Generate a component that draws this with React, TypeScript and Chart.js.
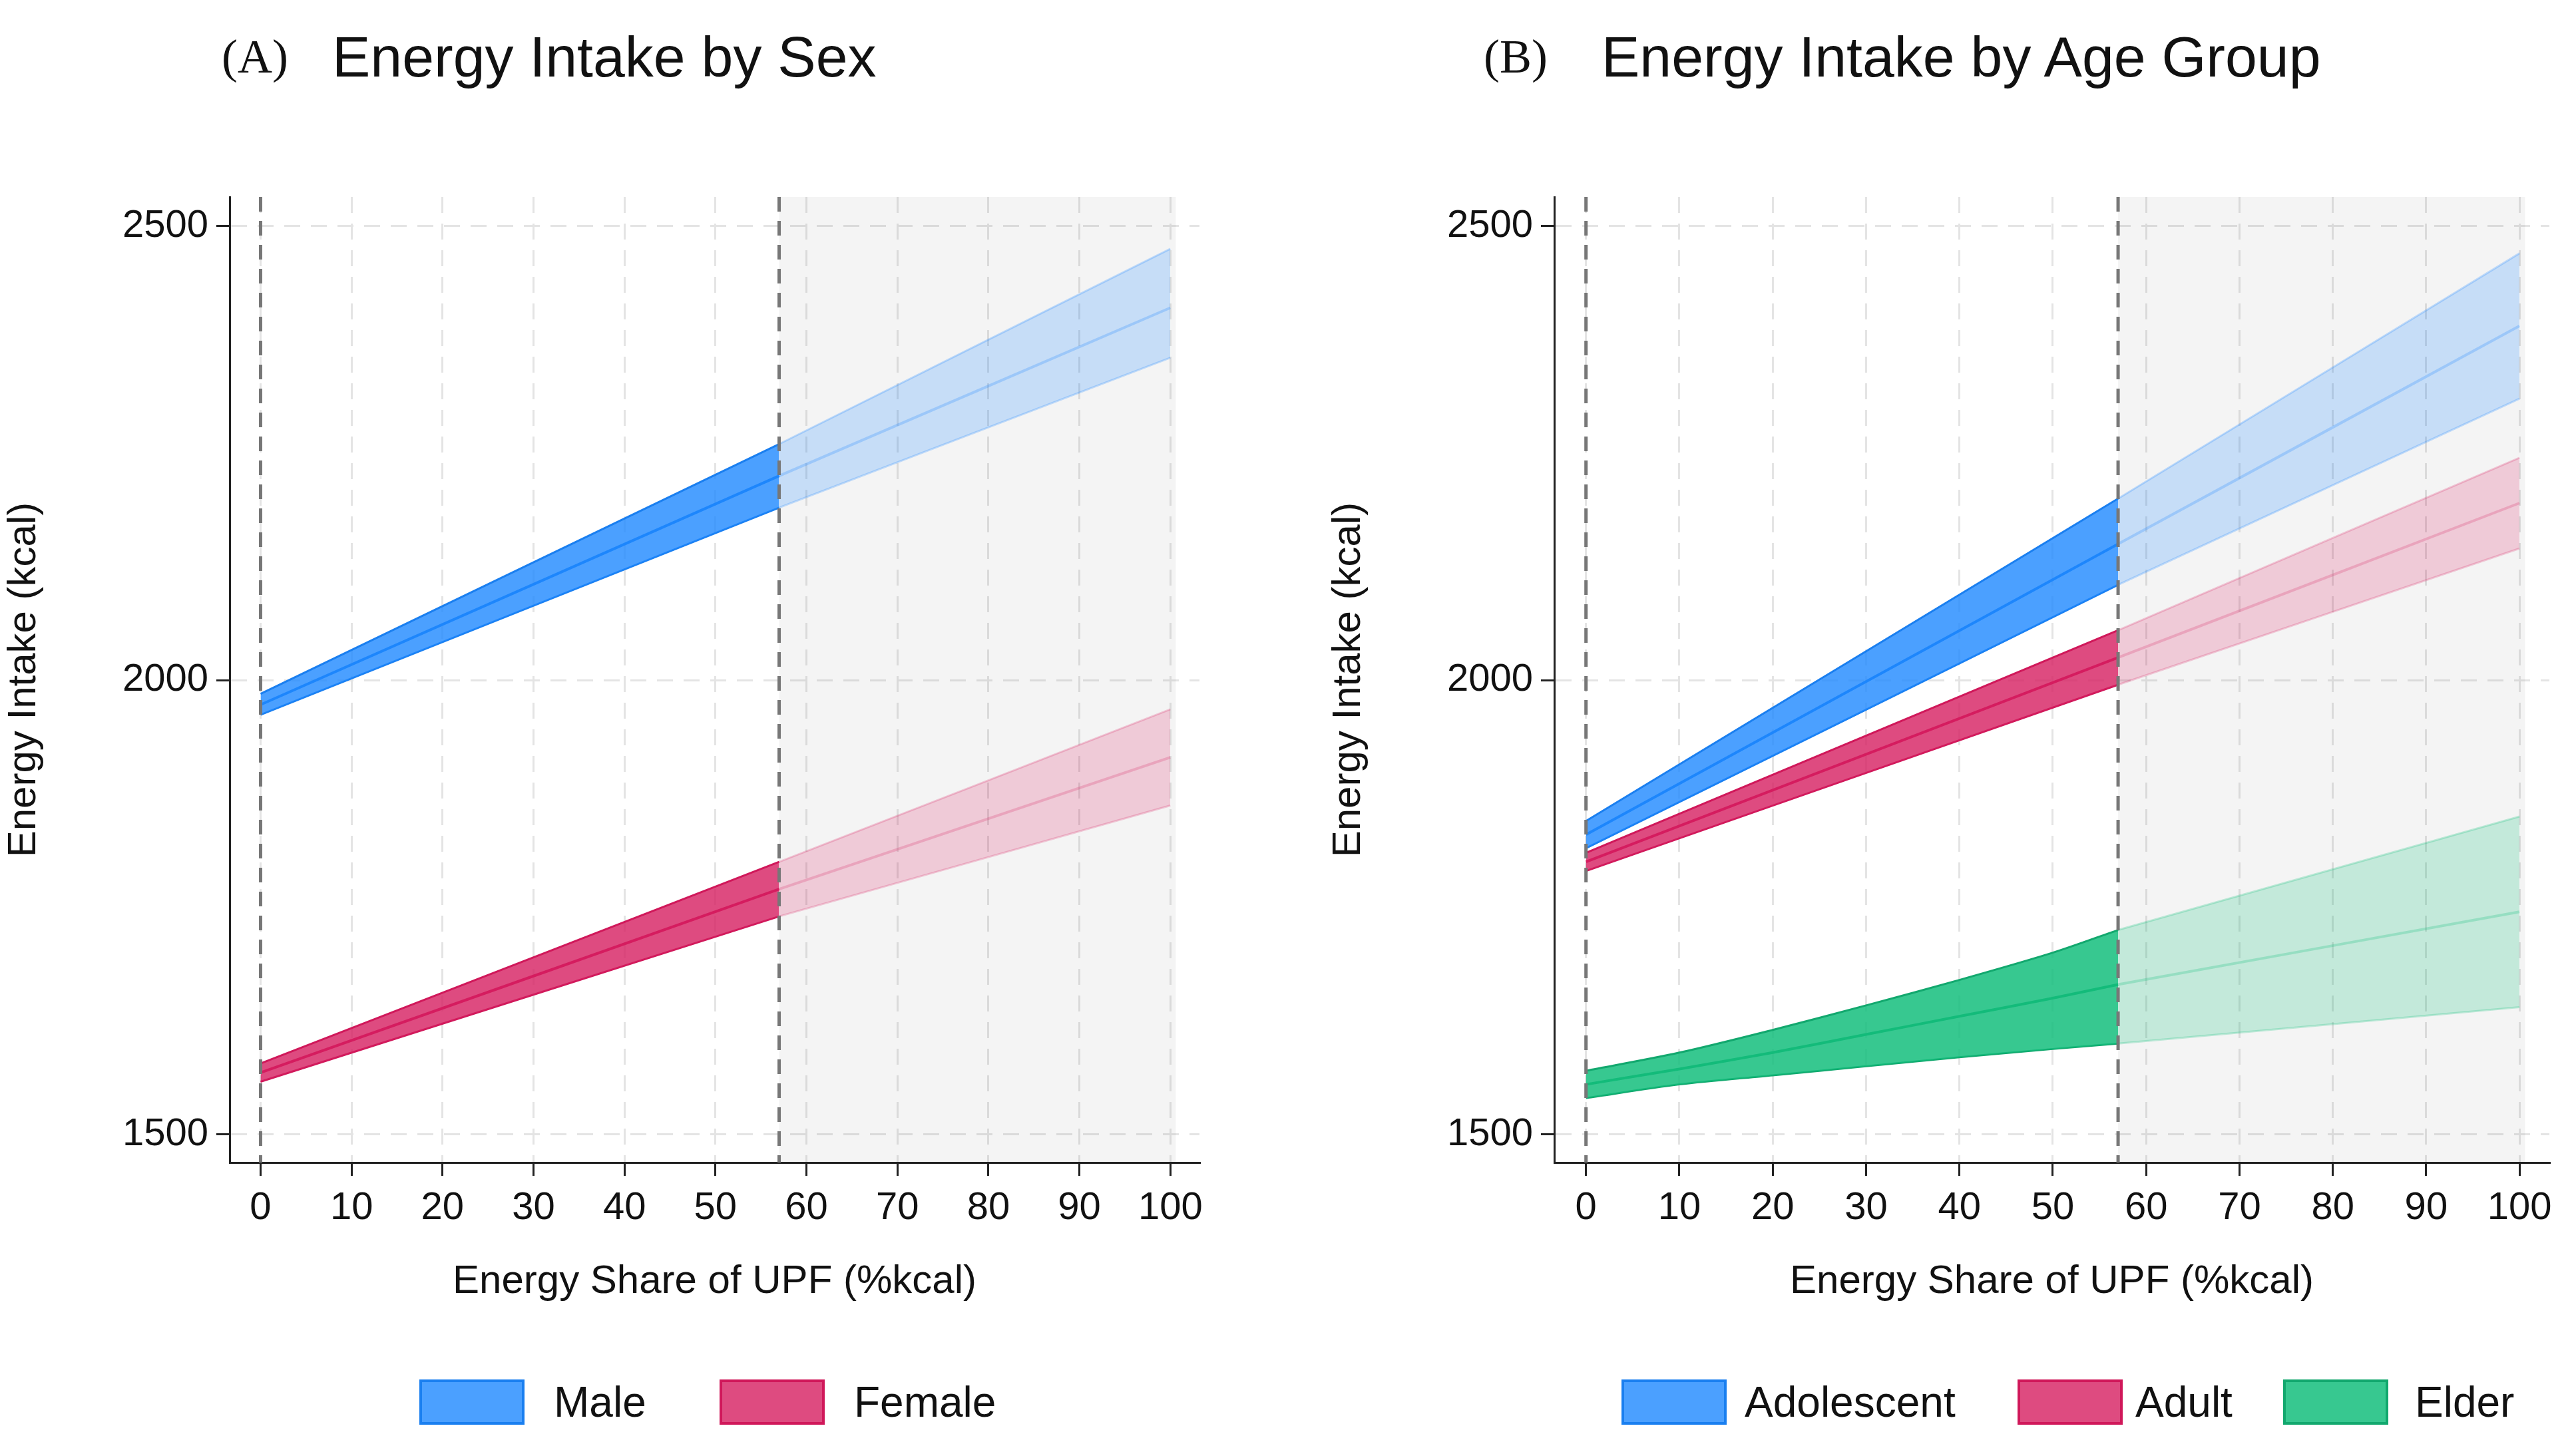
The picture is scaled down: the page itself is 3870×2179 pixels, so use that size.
import React, { useEffect, useRef } from "react";
import { Chart, registerables } from "chart.js";
Chart.register(...registerables);

const xTicks = [0, 10, 20, 30, 40, 50, 60, 70, 80, 90, 100];
const yTicks = [1500, 2000, 2500];
const CUT = 57;

const xLin = [0, 57];
const xObs = [0, 10, 20, 30, 40, 50, 57];
const xExt = [57, 100];

const maleLo = [1962, 2190];
const maleMid = [1973, 2225];
const maleHi = [1985, 2260];
const maleExtLo = [2190, 2355];
const maleExtMid = [2225, 2410];
const maleExtHi = [2260, 2475];

const femLo = [1558, 1740];
const femMid = [1568, 1770];
const femHi = [1578, 1800];
const femExtLo = [1740, 1862];
const femExtMid = [1770, 1915];
const femExtHi = [1800, 1968];

const adoLo = [1815, 2105];
const adoMid = [1830, 2150];
const adoHi = [1845, 2200];
const adoExtLo = [2105, 2310];
const adoExtMid = [2150, 2390];
const adoExtHi = [2200, 2470];

const aduLo = [1790, 1995];
const aduMid = [1800, 2025];
const aduHi = [1810, 2055];
const aduExtLo = [1995, 2145];
const aduExtMid = [2025, 2195];
const aduExtHi = [2055, 2245];

const eldLo = [1540, 1555, 1565, 1575, 1585, 1594, 1600];
const eldMid = [1555, 1572, 1590, 1610, 1630, 1650, 1665];
const eldHi = [1570, 1590, 1615, 1642, 1670, 1700, 1725];
const eldExtLo = [1600, 1640];
const eldExtMid = [1665, 1745];
const eldExtHi = [1725, 1850];

const BLUE = { line: "#1a7ff0", band: "rgba(30,136,255,0.8)", light: "rgba(30,136,255,0.22)", lline: "rgba(30,136,255,0.25)" };
const RED = { line: "#d0185a", band: "rgba(214,30,96,0.8)", light: "rgba(214,30,96,0.2)", lline: "rgba(214,30,96,0.22)" };
const GREEN = { line: "#12a86e", band: "rgba(20,190,125,0.85)", light: "rgba(20,190,125,0.22)", lline: "rgba(20,190,125,0.25)" };

const pts = (xs: number[], ys: number[]) => xs.map((x, i) => ({ x, y: ys[i] }));

function series(c: any, xs: number[], lo: number[], mid: number[], hi: number[], elo: number[], emid: number[], ehi: number[]) {
  const base = { pointRadius: 0, tension: 0.3 };
  return [
    { ...base, data: pts(xs, hi), borderColor: c.line, borderWidth: 3, backgroundColor: c.band, fill: "+1" },
    { ...base, data: pts(xs, lo), borderColor: c.line, borderWidth: 3, fill: false },
    { ...base, data: pts(xs, mid), borderColor: c.line, borderWidth: 4, fill: false },
    { ...base, data: pts(xExt, ehi), borderColor: c.lline, borderWidth: 3, backgroundColor: c.light, fill: "+1" },
    { ...base, data: pts(xExt, elo), borderColor: c.lline, borderWidth: 3, fill: false },
    { ...base, data: pts(xExt, emid), borderColor: c.lline, borderWidth: 4, fill: false },
  ];
}

const FONT = "'Liberation Sans', Arial, sans-serif";

const bgPlugin = {
  id: "bg",
  beforeDatasetsDraw(chart: any) {
    const { ctx, chartArea: a, scales } = chart;
    const x0 = scales.x.getPixelForValue(CUT);
    const x1 = scales.x.getPixelForValue(100.6);
    ctx.save();
    ctx.fillStyle = "rgba(0,0,0,0.045)";
    ctx.fillRect(x0, a.top, x1 - x0, a.bottom - a.top);
    ctx.restore();
  },
  afterDatasetsDraw(chart: any) {
    const { ctx, chartArea: a, scales } = chart;
    ctx.save();
    ctx.strokeStyle = "#777";
    ctx.lineWidth = 5;
    ctx.setLineDash([22, 14]);
    [0, CUT].forEach((v) => {
      const x = scales.x.getPixelForValue(v);
      ctx.beginPath();
      ctx.moveTo(x, a.top);
      ctx.lineTo(x, a.bottom);
      ctx.stroke();
    });
    ctx.restore();
  },
};

function Panel({ datasets, left, width, rightPad }: any) {
  const ref = useRef<HTMLCanvasElement>(null);
  useEffect(() => {
    const chart = new Chart(ref.current!, {
      type: "line",
      data: { datasets },
      plugins: [bgPlugin],
      options: {
        animation: false,
        responsive: true,
        maintainAspectRatio: false,
        layout: { padding: { top: 296, right: rightPad, left: 0, bottom: 0 } },
        plugins: { legend: { display: false }, tooltip: { enabled: false } },
        scales: {
          x: {
            type: "linear",
            min: -3.4,
            max: 103.2,
            afterBuildTicks: (s: any) => { s.ticks = xTicks.map((v) => ({ value: v })); },
            afterFit: (s: any) => { s.height = 215; },
            ticks: { font: { family: FONT, size: 58 }, color: "#111", padding: 14, callback: (v: any) => String(v) },
            grid: { color: "#e4e4e4", lineWidth: 3, tickLength: 20, tickColor: "#222" },
            border: { color: "#222", width: 3, dash: [24, 16] },
            title: { display: true, text: "Energy Share of UPF (%kcal)", font: { family: FONT, size: 60 }, color: "#111", padding: { top: 0, bottom: 0 } },
          },
          y: {
            type: "linear",
            min: 1469,
            max: 2532,
            afterBuildTicks: (s: any) => { s.ticks = yTicks.map((v) => ({ value: v })); },
            afterFit: (s: any) => { s.width = 345; },
            ticks: { font: { family: FONT, size: 58 }, color: "#111", padding: 12, callback: (v: any) => String(v) },
            grid: { color: "#e4e4e4", lineWidth: 3, tickLength: 20, tickColor: "#222" },
            border: { color: "#222", width: 3, dash: [24, 16] },
            title: { display: true, text: "Energy Intake (kcal)", font: { family: FONT, size: 60 }, color: "#111", padding: { top: 0, bottom: 0 } },
          },
        },
      } as any,
    });
    return () => chart.destroy();
  }, []);
  return (
    <div style={{ position: "absolute", left, top: 0, width, height: 1962 }}>
      <canvas ref={ref} />
    </div>
  );
}

function Legend({ items }: any) {
  return (
    <>
      {items.map((it: any, i: number) => (
        <React.Fragment key={i}>
          <div style={{ position: "absolute", left: it.bx, top: 2073, width: 158, height: 68, background: it.c.band, border: `4px solid ${it.c.line}`, boxSizing: "border-box" }} />
          <div style={{ position: "absolute", left: it.tx, top: 2070, fontFamily: FONT, fontSize: 64, color: "#111", lineHeight: "74px" }}>{it.label}</div>
        </React.Fragment>
      ))}
    </>
  );
}

function Title({ x1, x2, tag, text }: any) {
  return (
    <>
      <div style={{ position: "absolute", left: x1, top: 44, fontFamily: "'Liberation Serif', serif", fontSize: 72, color: "#111" }}>{tag}</div>
      <div style={{ position: "absolute", left: x2, top: 36, fontFamily: FONT, fontSize: 86, color: "#111" }}>{text}</div>
    </>
  );
}

export default function App() {
  const dsA = [
    ...series(BLUE, xLin, maleLo, maleMid, maleHi, maleExtLo, maleExtMid, maleExtHi),
    ...series(RED, xLin, femLo, femMid, femHi, femExtLo, femExtMid, femExtHi),
  ];
  const dsB = [
    ...series(BLUE, xLin, adoLo, adoMid, adoHi, adoExtLo, adoExtMid, adoExtHi),
    ...series(RED, xLin, aduLo, aduMid, aduHi, aduExtLo, aduExtMid, aduExtHi),
    ...series(GREEN, xObs, eldLo, eldMid, eldHi, eldExtLo, eldExtMid, eldExtHi),
  ];
  return (
    <div style={{ position: "absolute", left: 0, top: 0, width: 3870, height: 2179, background: "#fff" }}>
      <Title x1={333} x2={499} tag="(A)" text="Energy Intake by Sex" />
      <Title x1={2229} x2={2406} tag="(B)" text="Energy Intake by Age Group" />
      <Panel datasets={dsA} left={0} width={1935} rightPad={133} />
      <Panel datasets={dsB} left={1990} width={1880} rightPad={40} />
      <Legend items={[
        { c: BLUE, bx: 630, tx: 832, label: "Male" },
        { c: RED, bx: 1081, tx: 1283, label: "Female" },
      ]} />
      <Legend items={[
        { c: BLUE, bx: 2436, tx: 2621, label: "Adolescent" },
        { c: RED, bx: 3031, tx: 3208, label: "Adult" },
        { c: GREEN, bx: 3430, tx: 3628, label: "Elder" },
      ]} />
    </div>
  );
}
